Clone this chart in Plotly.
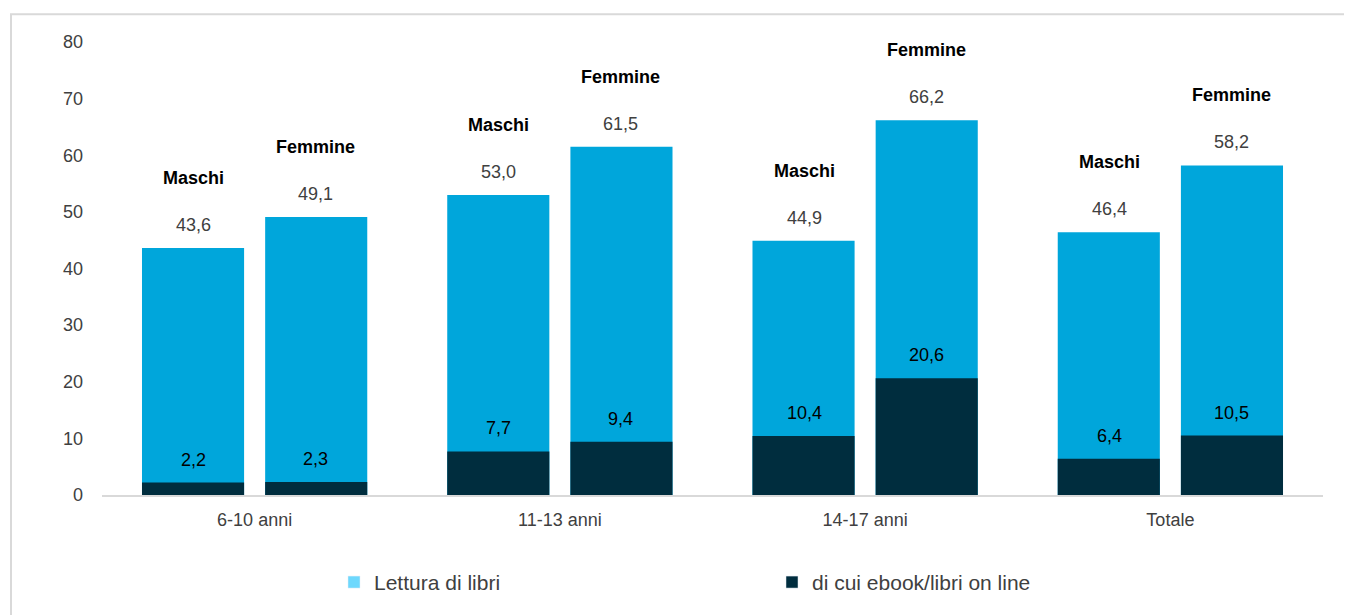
import plotly.graph_objects as go

categories = ["6-10 anni", "11-13 anni", "14-17 anni", "Totale"]
lettura_maschi = [43.6, 53.0, 44.9, 46.4]
lettura_femmine = [49.1, 61.5, 66.2, 58.2]
ebook_maschi = [2.2, 7.7, 10.4, 6.4]
ebook_femmine = [2.3, 9.4, 20.6, 10.5]
gruppi = ["Maschi", "Femmine"]

LIGHT = "#00A6DB"
LIGHT_LEG = "#6DD8FD"
DARK = "#002D3E"
FONT = "Liberation Sans Narrow, Arial Narrow, Liberation Sans, sans-serif"

def fmt(v):
    return f"{v:.1f}".replace(".", ",")

fig = go.Figure()
series = [
    (gruppi[0], lettura_maschi, ebook_maschi),
    (gruppi[1], lettura_femmine, ebook_femmine),
]
for name, tot, eb in series:
    fig.add_trace(go.Bar(x=categories, y=tot, name="Lettura di libri", offsetgroup=name,
                         marker=dict(color=LIGHT, line=dict(width=0)), showlegend=False,
                         hoverinfo="x+y"))
for name, tot, eb in series:
    fig.add_trace(go.Bar(x=categories, y=eb, name="di cui ebook/libri on line", offsetgroup=name,
                         marker=dict(color=DARK, line=dict(width=0)), showlegend=False,
                         hoverinfo="x+y"))

# legend entries
fig.add_trace(go.Bar(x=[None], y=[None], name="Lettura di libri", marker_color=LIGHT_LEG))
fig.add_trace(go.Bar(x=[None], y=[None], name="di cui ebook/libri on line", marker_color=DARK))

# labels
annotations = []
offset = 0.2
for gi, (name, tot, eb) in enumerate(series):
    dx = -offset if gi == 0 else offset
    for i, c in enumerate(categories):
        annotations.append(dict(x=i + dx, y=tot[i], xref="x", yref="y", text=fmt(tot[i]),
                                showarrow=False, yshift=23, yanchor="middle",
                                font=dict(family=FONT, size=18, color="#404040")))
        annotations.append(dict(x=i + dx, y=tot[i], xref="x", yref="y", text=f"<b>{name}</b>",
                                showarrow=False, yshift=70, yanchor="middle",
                                font=dict(family=FONT, size=18, color="#000000")))
        annotations.append(dict(x=i + dx, y=eb[i], xref="x", yref="y", text=fmt(eb[i]),
                                showarrow=False, yshift=23, yanchor="middle",
                                font=dict(family=FONT, size=18, color="#000000")))

# page has an 8px body margin: figure drawn from (8, 8)
W, H = 1344, 607
L, R, T, B = 94, 29, 34, 117
pw, ph = W - L - R, H - T - B

def px_x(px):
    return (px - 8 - L) / pw

def px_y(py):
    return (H - B - (py - 8)) / ph

fig.update_layout(
    width=W, height=H,
    margin=dict(l=L, r=R, t=T, b=B),
    paper_bgcolor="white", plot_bgcolor="white",
    barmode="group", bargap=0.193, bargroupgap=0.171,
    font=dict(family=FONT, size=18, color="#404040"),
    annotations=annotations,
    showlegend=True,
    legend=dict(orientation="h", x=px_x(334), xanchor="left",
                y=px_y(586), yanchor="middle",
                entrywidth=393, font=dict(size=21, color="#404040"),
                bgcolor="rgba(0,0,0,0)", traceorder="normal"),
    shapes=[dict(type="rect", xref="paper", yref="paper",
                 x0=px_x(11), x1=px_x(1370),
                 y0=px_y(640), y1=px_y(14),
                 line=dict(color="#D9D9D9", width=2), fillcolor="rgba(0,0,0,0)", layer="below")],
)
fig.update_xaxes(type="category", showline=True, linecolor="#D9D9D9", linewidth=2,
                 showgrid=False, ticks="", tickfont=dict(size=18, color="#404040"),
                 ticklabelstandoff=7)
fig.update_yaxes(range=[0, 80], dtick=10, showline=False, showgrid=False, zeroline=False,
                 ticks="", tickfont=dict(size=18, color="#404040"), ticklabelstandoff=18)

fig.write_html("out.html")
